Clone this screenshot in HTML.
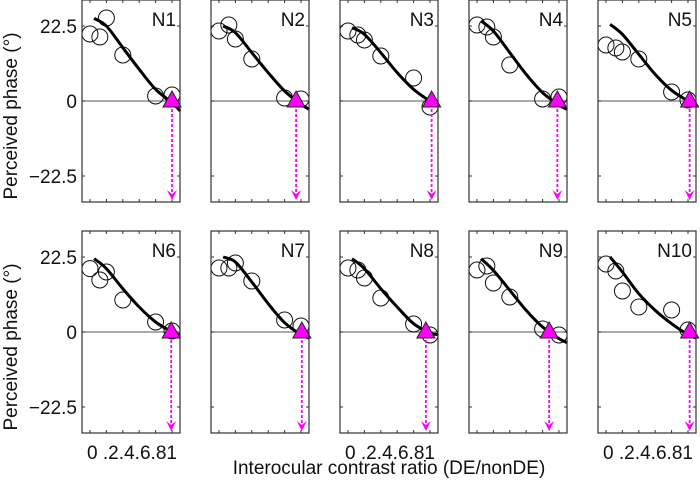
<!DOCTYPE html>
<html><head><meta charset="utf-8"><style>
body{margin:0;background:#fff;}
svg{display:block;font-family:"Liberation Sans",sans-serif;}
</style></head><body>
<svg id="chart" width="700" height="482"></svg>
<script>
const panelNames=["N1","N2","N3","N4","N5","N6","N7","N8","N9","N10"];
const circleX=[0,0.12,0.2,0.4,0.8,1.0];
const circleVals=[
[20.1,19.2,24.9,13.8,1.5,1.8],
[21,22.8,18.6,12.6,0.9,0.6],
[21,19.8,18.3,13.5,6.9,-1.8],
[22.8,22.2,19.2,10.8,0.6,1.2],
[16.8,15.9,14.7,12.6,2.7,0.3],
[19,15.6,18,9.6,3,0.3],
[19.2,19.2,20.7,15.3,3.6,1.8],
[19.2,18.6,16.2,10.2,2.4,-0.9],
[18.6,19.8,14.7,10.5,0.9,-0.9],
[20.4,18.3,12.3,7.5,6.6,0.6]];
const curveX=[0.05,0.2,0.4,0.6,0.8,1.0,1.1];
const curveVals=[
[24.8,22.5,16,9.5,3.5,-0.5,-3],
[22.5,20.5,14.5,8.5,3,-1,-2.5],
[22,20,14.5,8.5,3.5,0,-1.2],
[24,21,14.5,8,2.5,-1.2,-2.5],
[23,20,14,8,3.2,0,-1.5],
[22,19,13,7.5,3,0,-1],
[22.5,21,15,8.5,2.8,-0.8,-1.8],
[22,19,13,7.5,2.5,-0.3,-0.8],
[22,18.5,12.5,6.5,1.5,-2,-3.2],
[22.5,18,11.5,6.5,2.5,-0.8,-1.8]];
const triX=[1.0,0.94,1.02,0.98,1.02,0.99,1.01,0.95,0.88,1.02];
const xTickLabel="0 .2.4.6.81";
const yTicks=[22.5,0,-22.5];
const yTickLabels=["22.5","0","\u221222.5"];

const svg=document.getElementById('chart');
const NS="http://www.w3.org/2000/svg";
function mk(t,a,p){const e=document.createElementNS(NS,t);for(const k in a)e.setAttribute(k,a[k]);(p||svg).appendChild(e);return e;}

const W=98,H=202,colPitch=129,rowPitch=231,left0=82,top0=0;
for(let i=0;i<10;i++){
  const c=i%5,r=Math.floor(i/5);
  const L=left0+c*colPitch,T=top0+r*rowPitch;
  const sx=x=>L+8+82*x;
  const sy=v=>T+101-v*(75/22.5);
  const g=mk('g',{});
  
  
  const z=mk('line',{x1:L,x2:L+W,y1:sy(0),y2:sy(0),stroke:'#777','stroke-width':1.2},g);
  
  [0,0.2,0.4,0.6,0.8,1].forEach(t=>{
    mk('line',{x1:sx(t),x2:sx(t),y1:T+H,y2:T+H-3,stroke:'#333','stroke-width':1},g);
    mk('line',{x1:sx(t),x2:sx(t),y1:T,y2:T+3,stroke:'#333','stroke-width':1},g);
  });
  yTicks.forEach(v=>{
    mk('line',{x1:L,x2:L+3,y1:sy(v),y2:sy(v),stroke:'#333'},g);
    mk('line',{x1:L+W,x2:L+W-3,y1:sy(v),y2:sy(v),stroke:'#333'},g);
  });
  circleX.forEach((x,j)=>{
    const ci=mk('circle',{cx:sx(x),cy:sy(circleVals[i][j]),r:8,fill:'none',stroke:'#111','stroke-width':1},g);
    
    
  });
  const pts=curveX.map((x,j)=>[sx(x),sy(curveVals[i][j])]);
  let d='M'+pts[0][0]+','+pts[0][1];
  for(let k=0;k<pts.length-1;k++){
    const p0=pts[Math.max(k-1,0)],p1=pts[k],p2=pts[k+1],p3=pts[Math.min(k+2,pts.length-1)];
    d+=` C${p1[0]+(p2[0]-p0[0])/6},${p1[1]+(p2[1]-p0[1])/6} ${p2[0]-(p3[0]-p1[0])/6},${p2[1]-(p3[1]-p1[1])/6} ${p2[0]},${p2[1]}`;
  }
  const cv=mk('path',{d:d,fill:'none',stroke:'#000','stroke-width':3},g);
  
  const tx=sx(triX[i]);
  const yb=T+H-2;
  const ar=mk('line',{x1:tx,x2:tx,y1:sy(0)+8,y2:yb-4,stroke:'#ff00ff','stroke-width':1.8,'stroke-dasharray':'3,2'},g);
  
  const ah=mk('path',{d:`M${tx-5},${yb-10} L${tx},${yb} L${tx+5},${yb-10} L${tx},${yb-6} Z`,fill:'#ff00ff'},g);
  
  const y0=sy(0);
  const tr=mk('polygon',{points:`${tx},${y0-10} ${tx-9},${y0+6} ${tx+9},${y0+6}`,fill:'#ff00ff',stroke:'#222','stroke-width':1},g);
  
  mk('rect',{x:L,y:T,width:W,height:H,fill:'none',stroke:'#333','stroke-width':1.2},g);
  const lb=mk('text',{x:L+W-4,y:T+26,'text-anchor':'end','font-size':19,fill:'#111'},g);
  lb.textContent=panelNames[i];
  
  if(c===0){
    yTicks.forEach((v,j)=>{
      const t=mk('text',{x:L-5,y:sy(v)+7,'text-anchor':'end','font-size':19,fill:'#111'},g);
      t.textContent=yTickLabels[j];
      
    });
  }
  if(r===1 && c%2===0){
    const t=mk('text',{x:sx(0)-3,y:T+H+26,'font-size':19,fill:'#111','textLength':90,'lengthAdjust':'spacing'},g);
    t.textContent=xTickLabel;
    
  }
}
const yl=mk('text',{x:0,y:0,transform:'translate(17,116) rotate(-90)','text-anchor':'middle','font-size':19,fill:'#111'});
yl.textContent="Perceived phase (°)";

const yl2=mk('text',{x:0,y:0,transform:'translate(17,347) rotate(-90)','text-anchor':'middle','font-size':19,fill:'#111'});
yl2.textContent="Perceived phase (°)";

const xl=mk('text',{x:389,y:474,'text-anchor':'middle','font-size':19,fill:'#111'});
xl.textContent="Interocular contrast ratio (DE/nonDE)";

</script>
</body></html>
